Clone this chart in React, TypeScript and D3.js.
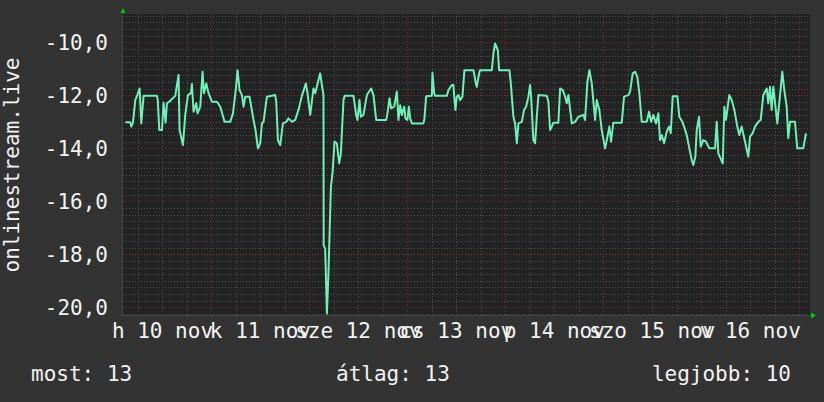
import React from 'react';
import * as d3 from 'd3';

// hours since 2025-11-10 00:00
const hours = [
  2.89, 4.11, 4.36, 4.78, 5.34, 5.83, 6.39, 6.81, 7.37, 10.65, 10.85, 11.22, 11.88, 12.27, 12.76, 13.10, 13.67,
  15.13, 15.94, 16.19, 17.02, 17.58, 18.24, 18.98, 19.22, 19.62, 20.28, 20.60, 21.26, 21.82, 22.16, 22.73, 23.29,
  24.12, 25.35, 26.16, 27.21, 28.60, 29.27, 30.0, 30.39, 30.88, 31.47, 31.86, 32.28, 33.33, 34.31, 34.80, 35.39,
  35.95, 36.37, 36.76, 37.59, 39.62, 39.87, 40.29, 40.85, 41.51, 42.32, 42.88, 43.71, 44.52, 45.33, 46.16, 47.14,
  47.53, 48.20, 49.0, 49.42, 50.64, 51.06, 51.45, 51.50, 51.87, 52.29, 52.68, 53.27, 53.66, 54.15, 54.73, 55.30,
  55.71, 56.35, 56.64, 58.80, 59.46, 59.78, 60.27, 60.61, 61.25, 62.08, 63.13, 63.70, 64.36, 66.81, 67.13, 67.62,
  68.03, 68.77, 69.43, 69.82, 70.24, 70.65, 71.22, 71.53, 72.02, 72.37, 72.69, 73.10, 75.94, 76.19, 76.60, 78.0,
  78.15, 78.56, 78.81, 81.67, 82.07, 82.90, 83.29, 83.46, 83.78, 84.12, 84.51, 84.93, 85.49, 85.98, 88.19, 88.78,
  89.02, 89.58, 89.83, 92.69, 93.09, 93.50, 94.16, 94.48, 97.0, 97.35, 97.98, 98.40, 98.82, 99.21, 100.04, 100.60,
  101.09, 101.66, 102.07, 102.32, 102.88, 103.30, 103.71, 104.11, 106.16, 106.56, 106.97, 107.39, 107.78, 109.0,
  109.42, 110.08, 110.64, 111.06, 111.45, 112.29, 113.09, 113.90, 115.13, 115.54, 116.11, 116.60, 117.18, 117.99,
  118.41, 119.04, 119.63, 120.44, 120.86, 121.49, 121.91, 122.47, 124.53, 125.09, 126.15, 126.56, 127.22, 127.79,
  128.35, 128.84, 129.43, 130.65, 131.22, 131.71, 132.27, 132.93, 133.49, 133.91, 134.33, 134.89, 135.55, 136.11,
  136.53, 137.02, 138.15, 138.64, 139.37, 139.79, 140.45, 141.09, 141.67, 142.06, 142.56, 142.90, 143.46, 143.88,
  144.51, 145.18, 145.98, 147.38, 147.80, 148.19, 149.27, 149.66, 150.07, 150.88, 151.47, 152.11, 152.84, 153.33,
  153.92, 154.73, 155.53, 155.95, 156.61, 157.17, 157.98, 158.57, 159.21, 160.04, 160.43, 160.85, 161.26, 161.66,
  162.64, 163.86, 164.35, 164.94, 165.33, 165.75, 166.97, 167.53, 169.0, 169.67,
];

const values = [
  -13.02, -13.02, -13.18, -13.02, -12.18, -11.99, -11.74, -13.06, -12.02, -12.02, -12.18, -13.31, -13.31, -12.28, -13.03, -12.3, -12.24,
  -12.02, -11.23, -13.31, -13.88, -12.74, -11.99, -11.92, -11.57, -12.62, -12.3, -12.68, -12.43, -11.11, -11.92, -11.55, -11.92,
  -12.24, -12.24, -12.43, -13.0, -13.0, -12.68, -11.74, -11.05, -11.8, -11.99, -12.43, -12.05, -12.05, -12.93, -13.31, -14.0,
  -13.81, -13.06, -13.0, -12.05, -11.99, -12.24, -13.69, -13.88, -13.06, -13.0, -12.87, -13.0, -12.93, -12.55, -12.02, -11.55,
  -11.92, -12.74, -11.74, -11.92, -11.17, -11.61, -11.99, -17.65, -17.8, -20.23, -18.66, -15.45, -14.94, -13.75, -13.81, -14.57,
  -14.19, -12.18, -12.02, -12.02, -12.74, -12.93, -12.18, -12.81, -12.74, -11.99, -11.74, -11.99, -12.93, -12.93, -12.68, -12.11,
  -12.49, -12.43, -11.86, -12.93, -12.37, -12.74, -12.43, -12.87, -12.93, -12.43, -12.87, -13.06, -13.06, -12.87, -12.03, -12.02,
  -11.15, -11.92, -12.02, -12.02, -11.8, -11.61, -11.61, -11.99, -12.55, -12.05, -11.99, -12.18, -12.05, -11.05, -11.05, -11.55,
  -11.68, -11.17, -11.05, -11.05, -10.42, -10.04, -10.29, -11.05, -11.05, -11.55, -12.81, -13.06, -13.81, -13.06, -13.0, -12.55,
  -12.43, -12.05, -11.61, -12.05, -13.69, -13.81, -12.81, -11.99, -12.02, -12.24, -13.31, -13.18, -13.03, -13.03,
  -11.74, -11.8, -12.05, -12.3, -11.99, -13.06, -13.0, -12.81, -12.74, -12.93, -11.49, -11.05, -11.55, -12.93,
  -12.18, -12.55, -13.31, -14.0, -13.69, -13.18, -13.75, -13.03, -13.03, -12.05, -11.99, -11.86, -11.17, -11.11,
  -11.3, -11.92, -13.0, -13.0, -12.62, -13.0, -12.74, -13.06, -12.68, -13.69, -13.5, -13.81, -13.37, -13.18,
  -13.43, -12.03, -12.03, -12.81, -13.0, -13.18, -13.5, -14.0, -14.44, -14.63, -14.32, -13.31, -12.81, -13.94,
  -13.69, -13.75, -14.0, -14.0, -13.0, -14.19, -14.57, -12.43, -12.93, -11.99, -12.18, -12.55, -13.18, -13.5,
  -13.18, -13.75, -14.32, -13.56, -13.43, -13.18, -13.0, -12.93, -11.99, -11.74, -12.3, -11.68, -12.55, -11.68,
  -13.06, -11.11, -11.8, -12.43, -13.62, -13.0, -13.0, -14.0, -14.0, -13.43,
];

const dayLabels = ['h 10 nov', 'k 11 nov', 'sze 12 nov', 'cs 13 nov', 'p 14 nov', 'szo 15 nov', 'v 16 nov'];
const yTicks = [-20, -18, -16, -14, -12, -10];
const yTitle = 'onlinestream.live';
const legendLabels = ['most', 'átlag', 'legjobb'];
const legendValues = ['13', '13', '10'];
const startHour = 2.33;
const endHour = 170.65;
const yMin = -20.31;
const yMax = -8.93;

const W = 824;
const H = 402;
const L = 123;
const R = 810;
const T = 14;
const B = 315.5;
const FONT = '"DejaVu Sans Mono", monospace';
const BASE = new Date(2025, 10, 10, 0, 0, 0).getTime();
const toDate = (h: number) => new Date(BASE + h * 3600e3);

export default function App() {
  const x = d3.scaleTime().domain([toDate(startHour), toDate(endHour)]).range([L, R]);
  const y = d3.scaleLinear().domain([yMin, yMax]).range([B, T]);
  const snap = (v: number) => Math.round(v) + 0.5;

  const minorY: number[] = [];
  for (let k = Math.ceil(yMin * 4); k <= Math.floor(yMax * 4); k++) {
    if (k % 8 !== 0) minorY.push(k / 4);
  }
  const [d0, d1] = x.domain();
  const minorX = d3.timeHour.every(6)!.range(d0, d1).filter((d) => d.getHours() !== 0);
  const majorX = d3.timeDay.range(d0, d1);
  const labelDays = d3.timeDay.range(d3.timeDay.floor(d0), d1).slice(0, dayLabels.length);

  const pts = hours.map((h, i) => [toDate(h), values[i]] as [Date, number]);
  const line = d3
    .line<[Date, number]>()
    .x((d) => x(d[0]))
    .y((d) => y(d[1]));

  const grid = '#4e4e4e';
  const red = '#7a2c2c';

  return (
    <svg
      width={W}
      height={H}
      style={{ position: 'absolute', left: 0, top: 0, display: 'block' }}
      fontFamily={FONT}
    >
      <rect x={0} y={0} width={W} height={H} fill="#333333" />
      <rect x={L} y={T} width={R - L} height={B - T} fill="#232323" />
      {minorY.map((v) => (
        <line key={'my' + v} x1={L} x2={R} y1={snap(y(v))} y2={snap(y(v))} stroke={grid} strokeDasharray="1 2" />
      ))}
      {minorX.map((d, i) => (
        <line key={'mx' + i} x1={snap(x(d))} x2={snap(x(d))} y1={T} y2={B + 2} stroke={grid} strokeDasharray="1 2" />
      ))}
      {yTicks.map((v) => (
        <line key={'My' + v} x1={L} x2={R} y1={snap(y(v))} y2={snap(y(v))} stroke={red} strokeDasharray="1 2" />
      ))}
      {majorX.map((d, i) => (
        <line key={'Mx' + i} x1={snap(x(d))} x2={snap(x(d))} y1={T} y2={B + 2} stroke={red} strokeDasharray="1 2" />
      ))}
      <line x1={L - 0.5} x2={L - 0.5} y1={T} y2={B} stroke="#444" />
      <line x1={L} x2={R} y1={B} y2={B} stroke="#444" />
      <path d={line(pts) || ''} fill="none" stroke="#6ff0b6" strokeWidth={2} strokeLinejoin="round" />
      {/* arrows */}
      <path d={`M${L - 2.5},${T - 1}L${L + 2.5},${T - 1}L${L},${T - 6}Z`} fill="#00cc00" />
      <path d={`M${R + 1},${B - 3}L${R + 1},${B + 3}L${R + 6},${B}Z`} fill="#00cc00" />
      {yTicks.map((v) => (
        <text key={'yl' + v} x={108} y={y(v) + 7.5} textAnchor="end" fill="#f2f2f2" fontSize={21}>
          {v.toFixed(1).replace('.', ',')}
        </text>
      ))}
      {labelDays.map((d, i) => (
        <text
          key={'xl' + i}
          x={x(new Date(d.getTime() + 12 * 3600e3))}
          y={338}
          textAnchor="middle"
          fill="#f2f2f2"
          fontSize={21}
        >
          {dayLabels[i]}
        </text>
      ))}
      <text x={18.5} y={165} transform="rotate(-90 18.5 165)" textAnchor="middle" fill="#f2f2f2" fontSize={21}>
        {yTitle}
      </text>
      <text x={31} y={380.5} fill="#f2f2f2" fontSize={21}>
        {legendLabels[0]}: {legendValues[0]}
      </text>
      <text x={336} y={380.5} fill="#f2f2f2" fontSize={21}>
        {legendLabels[1]}: {legendValues[1]}
      </text>
      <text x={791} y={380.5} textAnchor="end" fill="#f2f2f2" fontSize={21}>
        {legendLabels[2]}: {legendValues[2]}
      </text>
    </svg>
  );
}
